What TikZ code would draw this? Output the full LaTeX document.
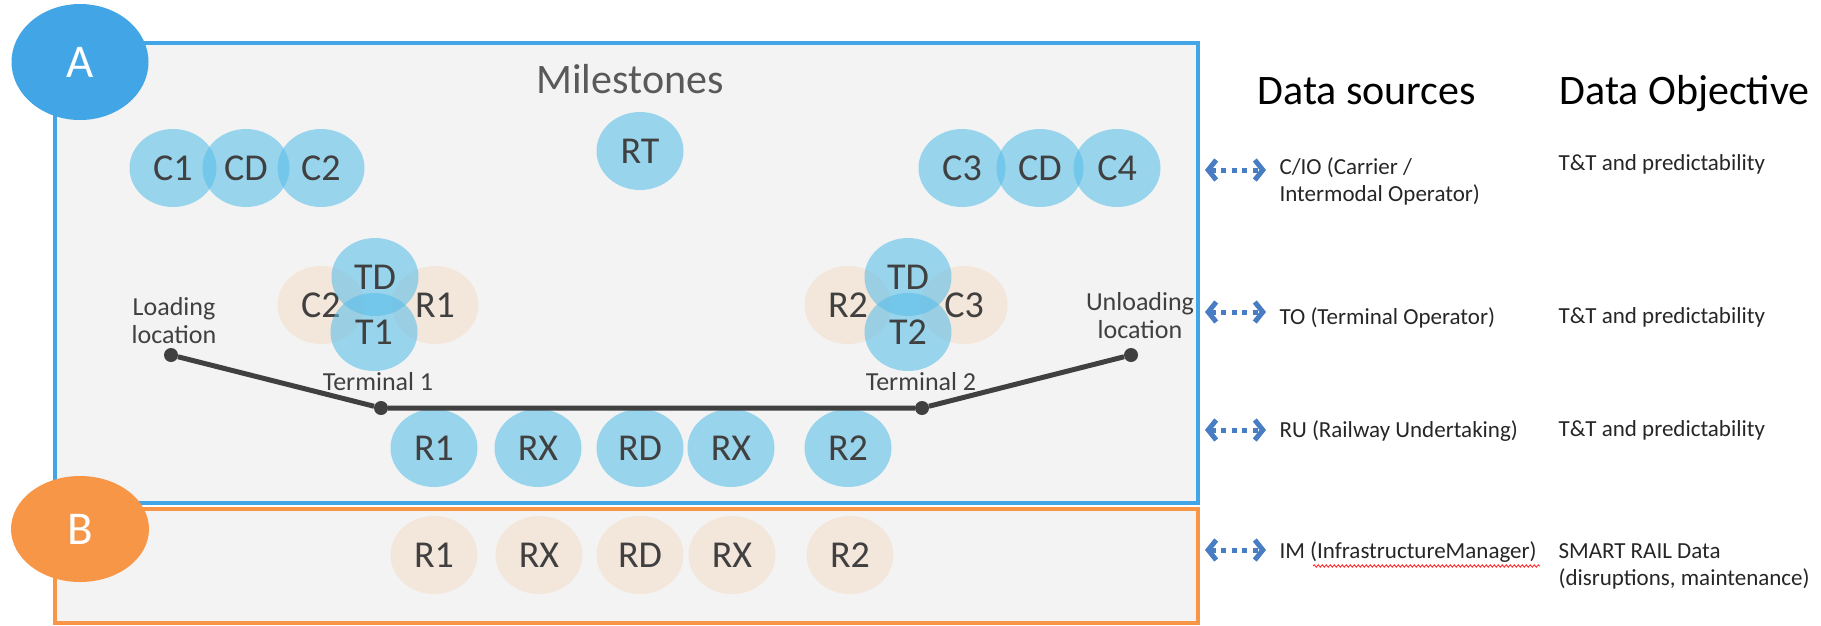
\documentclass[tikz,border=0pt]{standalone}
\usepackage{fontspec}
\setmainfont{Carlito}
\usepackage{xcolor}
\usepackage{tikz}
\usetikzlibrary{shapes.geometric,arrows.meta,decorations.pathmorphing}

\definecolor{frameblue}{RGB}{66,165,229}
\definecolor{frameorange}{RGB}{247,150,70}
\definecolor{panel}{RGB}{243,243,243}
\definecolor{stoneblue}{RGB}{88,190,234}
\definecolor{stonebeige}{RGB}{243,230,218}
\definecolor{ink}{RGB}{64,64,64}
\definecolor{trackgray}{RGB}{64,64,64}
\definecolor{linkblue}{RGB}{72,125,196}

\begin{document}
\begin{tikzpicture}[x=1pt, y=-1pt,
  stone/.style={ellipse, minimum width=87pt, minimum height=78pt, inner sep=0pt,
    text=ink, font=\fontsize{38}{44}\selectfont},
  bluestone/.style={stone, fill=stoneblue, fill opacity=0.58, text opacity=1},
  beigestone/.style={stone, fill=stonebeige},
  badge/.style={ellipse, inner sep=0pt, text=white, font=\fontsize{47}{52}\selectfont},
  stopdot/.style={circle, fill=trackgray, inner sep=0pt, minimum size=14pt},
  place/.style={align=center, text=ink, font=\fontsize{26}{28}\selectfont},
  link/.style={linkblue, line width=5pt, dash pattern=on 5pt off 5.5pt,
    {Straight Barb[length=8pt, width=20pt]}-{Straight Barb[length=8pt, width=20pt]}},
  colhead/.style={anchor=base west, font=\fontsize{42}{50}\selectfont},
  coltext/.style={anchor=base west, align=left, text=black!85,
    font=\fontsize{23}{27}\selectfont}]
  \useasboundingbox (0,0) rectangle (1821,625);

  % Frames A and B
  \draw[frameblue, line width=4pt, fill=panel] (55,43) rectangle (1198,503);
  \draw[frameorange, line width=4pt, fill=panel] (55,509) rectangle (1198,623);
  \node[badge, fill=frameblue, minimum width=137pt, minimum height=116pt]
    (badgeA) at (80,62) {A};
  \node[badge, fill=frameorange, minimum width=138pt, minimum height=106pt]
    (badgeB) at (80,529) {B};
  \node[anchor=base, text=black!65, font=\fontsize{42}{50}\selectfont]
    (miles) at (630,93) {Milestones};

  % Carrier milestones
  \node[bluestone] (c1) at (173,168) {C1};
  \node[bluestone] (cdleft) at (246,168) {CD};
  \node[bluestone] (c2) at (321,168) {C2};
  \node[bluestone] (rt) at (640,151) {RT};
  \node[bluestone] (c3) at (962,168) {C3};
  \node[bluestone] (cdright) at (1040,168) {CD};
  \node[bluestone] (c4) at (1117,168) {C4};

  % Terminal 1
  \node[beigestone] (t1in) at (321,305) {C2};
  \node[beigestone] (t1out) at (435,305) {R1};
  \node[bluestone] (td1) at (375,277) {TD};
  \node[bluestone] (t1) at (374,332) {T1};

  % Terminal 2
  \node[beigestone] (t2in) at (848,305) {R2};
  \node[beigestone] (t2out) at (964,305) {C3};
  \node[bluestone] (td2) at (908,277) {TD};
  \node[bluestone] (t2) at (908,332) {T2};

  % Railway undertaking milestones
  \node[bluestone] (rua) at (434,448) {R1};
  \node[bluestone] (rub) at (538,448) {RX};
  \node[bluestone] (ruc) at (640,448) {RD};
  \node[bluestone] (rud) at (731,448) {RX};
  \node[bluestone] (rue) at (848,448) {R2};

  % Rail track
  \node[stopdot] (load) at (171,355) {};
  \node[stopdot] (term1) at (381,408) {};
  \node[stopdot] (term2) at (922,408) {};
  \node[stopdot] (unload) at (1131,355) {};
  \draw[trackgray, line width=5pt] (load) -- (term1) -- (term2) -- (unload);
  \node[place] (loadtxt) at (174,321) {Loading\\location};
  \node[place] (unloadtxt) at (1140,316) {Unloading\\location};
  \node[place, anchor=base] (term1txt) at (378,390) {Terminal 1};
  \node[place, anchor=base] (term2txt) at (921,390) {Terminal 2};

  % Infrastructure manager milestones
  \node[beigestone] (ima) at (434,555) {R1};
  \node[beigestone] (imb) at (539,555) {RX};
  \node[beigestone] (imc) at (640,555) {RD};
  \node[beigestone] (imd) at (732,555) {RX};
  \node[beigestone] (ime) at (850,555) {R2};

  % Right: data sources and objectives
  \node[colhead] (srchead) at (1254,104) {Data sources};
  \node[colhead] (objhead) at (1556,104) {Data Objective};

  \coordinate (cioL) at (1205,170);
  \coordinate (cioR) at (1266,170);
  \draw[link] (cioL) -- (cioR);
  \node[coltext] (cio) at (1276,201) {C/IO (Carrier /\\Intermodal Operator)};
  \node[coltext] (cioobj) at (1555,170) {T\&T and predictability};

  \coordinate (toL) at (1205,312);
  \coordinate (toR) at (1266,312);
  \draw[link] (toL) -- (toR);
  \node[coltext] (to) at (1276,324) {TO (Terminal Operator)};
  \node[coltext] (toobj) at (1555,323) {T\&T and predictability};

  \coordinate (ruL) at (1205,430);
  \coordinate (ruR) at (1266,430);
  \draw[link] (ruL) -- (ruR);
  \node[coltext] (ru) at (1276,437) {RU (Railway Undertaking)};
  \node[coltext] (ruobj) at (1555,436) {T\&T and predictability};

  \coordinate (imL) at (1205,550);
  \coordinate (imR) at (1266,550);
  \draw[link] (imL) -- (imR);
  \node[coltext] (im) at (1276,558) {IM (InfrastructureManager)};
  \node[coltext] (imobj) at (1555,585) {SMART RAIL Data\\(disruptions, maintenance)};
  \draw[red!80, line width=0.9pt, decorate,
    decoration={snake, amplitude=1.2pt, segment length=4pt}] (1313,566) -- (1540,566);
\end{tikzpicture}
\end{document}
